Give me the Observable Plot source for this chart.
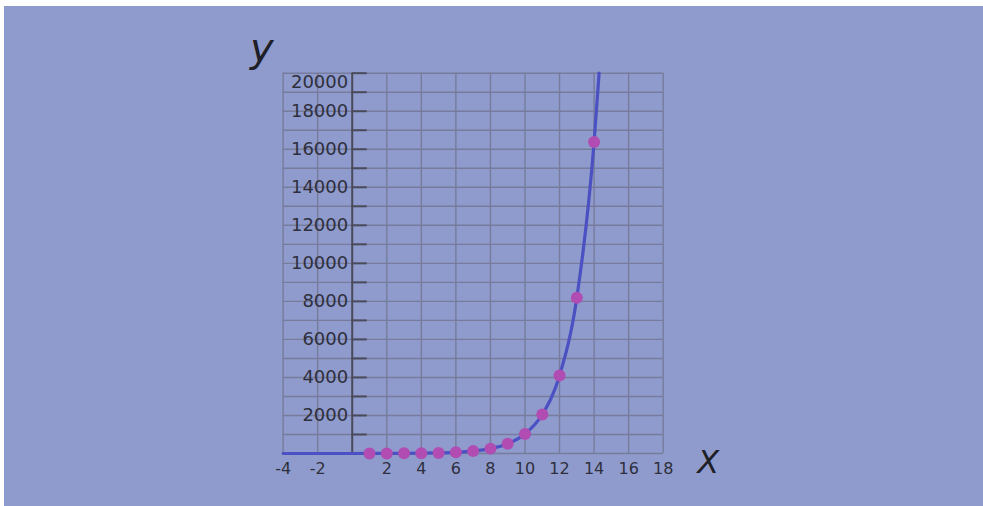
<!DOCTYPE html>
<html>
<head>
<meta charset="utf-8">
<script src="https://cdn.jsdelivr.net/npm/d3@7"></script>
<script src="https://cdn.jsdelivr.net/npm/@observablehq/plot@0.6"></script>
<style>
  html, body { margin: 0; padding: 0; background: #ffffff; }
  #chart svg { display: block; margin: 6px 0 0 4px; }
</style>
</head>
<body>
<div id="chart"></div>
<script>
// ---- data ----
const pointX = [1, 2, 3, 4, 5, 6, 7, 8, 9, 10, 11, 12, 13, 14];
const pointY = [2, 4, 8, 16, 32, 64, 128, 256, 512, 1024, 2048, 4096, 8192, 16384];

const curveX = [-4, -3, -2, -1, 0, 1, 2, 3, 4, 5, 6, 7, 8, 9, 10, 11, 12, 13, 14, 14.29];
const curveY = [0.0625, 0.125, 0.25, 0.5, 1, 2, 4, 8, 16, 32, 64, 128, 256, 512, 1024, 2048, 4096, 8192, 16384, 20000];

const xTickValues = [-4, -2, 2, 4, 6, 8, 10, 12, 14, 16, 18];
const xTickLabels = ["-4", "-2", "2", "4", "6", "8", "10", "12", "14", "16", "18"];
const yTickValues = [2000, 4000, 6000, 8000, 10000, 12000, 14000, 16000, 18000];
const yTopLabel = [20000];
const yGridValues = d3.range(0, 20001, 1000);
const xGridValues = [-4, -2, 2, 4, 6, 8, 10, 12, 14, 16, 18];

const points = pointX.map((x, i) => ({x, y: pointY[i]}));
const curve = curveX.map((x, i) => ({x, y: curveY[i]}));
const xTicks = xTickValues.map((x, i) => ({x, label: xTickLabels[i]}));

const gridColor = "#777c9c";
const axisColor = "#4a4b5a";
const textColor = "#2e2f3d";

const chart = Plot.plot({
  width: 979,
  height: 500,
  marginLeft: 278.6,
  marginRight: 320.3,
  marginTop: 66.7,
  marginBottom: 53,
  style: {background: "#8f9bcc", fontFamily: "'DejaVu Sans', sans-serif", overflow: "visible"},
  x: {domain: [-4, 18], axis: null},
  y: {domain: [0, 20000], axis: null},
  marks: [
    Plot.ruleY(yGridValues, {stroke: gridColor, strokeWidth: 1.4}),
    Plot.ruleX(xGridValues, {stroke: gridColor, strokeWidth: 1.4}),
    Plot.ruleX([0], {stroke: axisColor, strokeWidth: 2}),
    Plot.ruleY(yGridValues.slice(1), {x1: 0, x2: 0.87, stroke: axisColor, strokeWidth: 2}),
    Plot.line(curve, {x: "x", y: "y", curve: "monotone-x", stroke: "#4b50c2", strokeWidth: 3.2}),
    Plot.dot(points, {x: "x", y: "y", r: 6, fill: "#b04cb2", stroke: "none"}),
    Plot.text(yTickValues, {x: 0, y: d => d, text: d => String(d), textAnchor: "end", dx: -4, fontSize: 18, fill: textColor, style: "letter-spacing:1px"}),
    Plot.text(yTopLabel, {x: 0, y: d => d, text: d => String(d), textAnchor: "end", dx: -4, dy: 9, fontSize: 18, fill: textColor, style: "letter-spacing:1px"}),
    Plot.text(xTicks, {x: "x", y: 0, text: "label", dy: 15, fontSize: 16, fill: textColor}),
    Plot.text(["X"], {frameAnchor: "bottom-right", dx: 56, dy: 19, fontSize: 32, fontStyle: "italic", fill: "#1f1f28"}),
    Plot.text(["y"], {frameAnchor: "top-left", dx: -33, dy: -40, fontSize: 40, fontStyle: "italic", fill: "#1f1f28"})
  ]
});
document.getElementById("chart").append(chart);
</script>
</body>
</html>
